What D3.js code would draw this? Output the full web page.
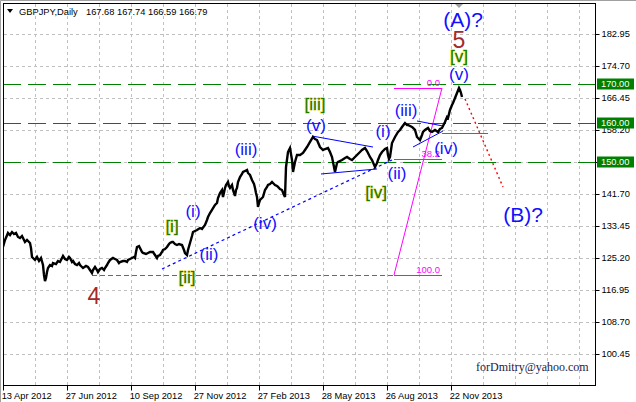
<!DOCTYPE html>
<html><head><meta charset="utf-8">
<script src="https://cdn.jsdelivr.net/npm/d3@7"></script>
<style>
body{margin:0;background:#fff}
svg{display:block}
</style>
</head><body><svg id="c" width="636" height="402"></svg>
<script>
// ---------- data ----------
const symbolTitle = "GBPJPY,Daily";
const ohlcValues = ["167.68","167.74","166.59","166.79"];
const yTickValues = [100.45,108.70,116.95,125.20,133.45,141.70,149.95,158.20,166.45,174.70,182.95];
const dateLabels = ["13 Apr 2012","27 Jun 2012","10 Sep 2012","27 Nov 2012","27 Feb 2013","28 May 2013","26 Aug 2013","22 Nov 2013"];
const dateBars = [0,64,128,192,256,320,384,448];
const levelValues = [170.00,160.00,150.00];
const levelLabels = ["170.00","160.00","150.00"];
// [bar index, price]
const closeSeries = [[0,128.04],[2,129.84],[5,131.65],[7,131.13],[9,131.90],[11,131.39],[13,131.65],[15,130.62],[17,130.36],[19,130.87],[22,129.33],[24,129.84],[27,129.07],[28,127.78],[29,125.46],[31,124.94],[32,124.69],[34,125.46],[36,124.43],[38,125.20],[40,123.39],[41,120.82],[42,119.27],[43,120.05],[44,121.59],[45,122.62],[47,123.39],[49,123.14],[50,123.91],[53,123.65],[55,124.43],[57,124.17],[59,125.20],[60,125.72],[62,124.94],[64,124.69],[66,125.46],[67,125.20],[69,124.17],[70,124.43],[72,123.65],[74,123.39],[76,123.91],[77,123.39],[79,122.88],[80,122.62],[83,123.14],[85,122.88],[87,122.11],[89,121.33],[90,122.11],[92,122.88],[94,122.11],[95,121.59],[97,122.36],[99,122.62],[101,122.11],[102,122.62],[104,123.39],[105,123.91],[107,124.69],[110,125.20],[112,124.94],[114,124.69],[116,123.91],[117,124.17],[120,124.43],[122,124.43],[124,124.17],[125,124.69],[127,124.94],[129,125.20],[131,125.46],[132,125.20],[133,126.75],[134,128.04],[136,128.29],[137,127.78],[139,126.75],[140,126.49],[143,126.23],[145,126.49],[147,126.75],[150,126.75],[152,125.97],[154,125.20],[155,125.72],[157,125.97],[159,126.75],[160,127.26],[162,127.52],[164,128.04],[166,128.81],[167,129.07],[169,129.33],[170,129.33],[172,128.81],[174,128.55],[176,128.81],[179,128.55],[181,127.26],[182,126.49],[184,125.97],[185,127.26],[187,129.07],[189,130.87],[190,131.90],[192,132.16],[194,132.42],[197,132.93],[199,132.68],[202,133.71],[204,135.00],[205,135.77],[207,136.80],[209,137.58],[212,138.87],[214,139.38],[215,140.67],[217,141.96],[219,142.73],[220,140.93],[222,143.25],[223,144.02],[225,144.79],[226,143.76],[227,143.25],[229,144.02],[230,142.73],[232,141.19],[233,142.73],[234,143.25],[235,144.79],[237,146.08],[239,146.86],[240,147.37],[242,147.63],[244,147.89],[245,147.12],[247,146.60],[249,145.31],[251,144.28],[252,143.25],[253,141.96],[254,140.93],[255,138.35],[256,139.38],[257,140.15],[259,140.67],[260,140.93],[262,142.73],[264,143.51],[265,144.02],[267,144.28],[269,144.79],[271,144.28],[272,144.02],[274,143.76],[275,143.51],[277,142.99],[279,142.73],[281,141.45],[282,140.93],[283,148.66],[285,152.53],[286,153.04],[287,153.56],[289,150.47],[290,147.37],[292,149.95],[294,151.76],[297,151.76],[300,152.27],[302,153.04],[304,153.81],[307,155.11],[310,156.40],[312,155.88],[314,155.62],[317,153.81],[320,153.04],[322,153.30],[325,153.56],[327,152.53],[329,151.24],[332,147.37],[334,149.69],[335,149.95],[339,150.47],[342,150.98],[344,151.24],[347,150.72],[349,150.47],[352,151.24],[354,151.76],[357,152.53],[359,153.04],[362,153.56],[364,152.79],[365,152.27],[367,151.24],[369,150.47],[372,148.66],[374,149.69],[375,150.47],[377,151.76],[379,152.53],[382,153.30],[384,153.56],[385,151.76],[386,150.72],[387,151.24],[389,154.85],[392,156.40],[395,157.69],[397,158.20],[399,158.97],[402,160.01],[404,159.49],[405,159.49],[407,159.23],[409,158.97],[410,158.72],[412,158.20],[414,156.40],[415,156.14],[417,155.62],[419,156.91],[420,157.69],[422,158.20],[425,158.72],[427,157.94],[429,157.69],[432,158.20],[435,157.69],[437,158.46],[439,158.72],[442,160.26],[444,161.55],[445,161.30],[447,163.36],[449,164.65],[450,165.16],[452,166.45],[454,167.74],[456,169.03],[457,168.51],[458,167.74],[459,166.71]];

// drawn objects: [[bar, price],[bar, price]]
const blueTrendLines = [
  [[159,122.36],[389,150.47]]
];
const blueSolidLines = [
  [[309,156.65],[370,153.81]],
  [[318,146.86],[374,148.15]],
  [[414,160.52],[440,159.23]],
  [[410,153.81],[440,157.94]]
];
const redForecast = [[462,166.22],[500,143.51]];
const fiboTop = 169.03, fiboBottom = 120.82;
const fiboLevels = [0.0, 38.2, 100.0];
const fiboLevelText = ["0.0","38.2","100.0"];
const fiboStartBar = 391, fiboEndBar = 439, fiboRayStartBar = 89;
const magentaExtra = [[439,157.43],[485,157.43]];

const waveLabels = [
  {t:"(A)?", bar:460, p:186.56, k:"big"},
  {t:"5", bar:456, p:181.40, k:"deg"},
  {t:"[v]", bar:456, p:177.02, k:"br"},
  {t:"(v)", bar:456, p:172.51, k:"w"},
  {t:"(iii)", bar:403, p:163.10, k:"w"},
  {t:"(i)", bar:380, p:157.69, k:"w"},
  {t:"(iv)", bar:443, p:153.43, k:"w"},
  {t:"(ii)", bar:394, p:146.99, k:"w"},
  {t:"[iv]", bar:373, p:141.96, k:"br"},
  {t:"[iii]", bar:312, p:164.65, k:"br"},
  {t:"(v)", bar:313, p:159.36, k:"w"},
  {t:"(iii)", bar:243, p:153.30, k:"w"},
  {t:"(iv)", bar:262, p:134.22, k:"w"},
  {t:"(i)", bar:190, p:137.06, k:"w"},
  {t:"[i]", bar:169, p:133.45, k:"br"},
  {t:"(ii)", bar:206, p:126.23, k:"w"},
  {t:"[ii]", bar:184, p:120.05, k:"br"},
  {t:"4", bar:91, p:115.41, k:"deg"},
  {t:"(B)?", bar:520, p:136.54, k:"big"}
];
const watermark = "forDmitry@yahoo.com";

// ---------- scales ----------
const SANS = "'Liberation Sans',Arial,sans-serif";
const svg = d3.select("#c");
const W = 636, H = 402;
const L = 3, R = 595, T = 3, B = 385;
const x = d3.scaleLinear().domain([0, 592]).range([L, R]);
const y = d3.scaleLinear().domain([92.46, 190.94]).range([B, T]);
const px = v => Math.round(v) + 0.5;

svg.append("rect").attr("width", W).attr("height", H).attr("fill", "#fff");
svg.append("path").attr("d", "M0.5,402V0.5H636").attr("stroke", "#a0a0a0").attr("fill", "none");

svg.append("defs").append("clipPath").attr("id", "clip")
  .append("rect").attr("x", L + 1).attr("y", T + 1).attr("width", R - L - 1).attr("height", B - T - 1);

// grid
const grid = svg.append("g").attr("stroke", "#c0c0c0").attr("stroke-dasharray", "3,3")
  .attr("shape-rendering", "crispEdges");
d3.range(32, 592, 32).forEach(b => {
  grid.append("line").attr("x1", px(x(b))).attr("x2", px(x(b))).attr("y1", T + 1).attr("y2", B);
});
yTickValues.forEach(v => {
  grid.append("line").attr("x1", L + 1).attr("x2", R).attr("y1", px(y(v))).attr("y2", px(y(v)));
});

const plot = svg.append("g").attr("clip-path", "url(#clip)");

// level lines
levelValues.forEach(v => {
  plot.append("line").attr("x1", L).attr("x2", R).attr("y1", px(y(v))).attr("y2", px(y(v)))
    .attr("stroke", "#008000").attr("stroke-dasharray", "18,7").attr("shape-rendering", "crispEdges");
});

// fibo
const fy = lv => y(fiboTop - (fiboTop - fiboBottom) * lv / 100);
plot.append("line").attr("x1", x(fiboRayStartBar)).attr("x2", x(fiboStartBar))
  .attr("y1", px(y(fiboBottom))).attr("y2", px(y(fiboBottom)))
  .attr("stroke", "#ff00ff").attr("stroke-width", 1.2).attr("stroke-dasharray", "5,3");
fiboLevels.forEach((lv, i) => {
  plot.append("line").attr("x1", x(fiboStartBar)).attr("x2", x(fiboEndBar))
    .attr("y1", px(fy(lv))).attr("y2", px(fy(lv)))
    .attr("stroke", "#ff00ff").attr("shape-rendering", "crispEdges");
  plot.append("text").attr("x", x(fiboEndBar) - 2).attr("y", px(fy(lv)) - 3)
    .attr("text-anchor", "end").style("font-family", SANS).attr("font-size", 9.5)
    .attr("fill", "#ff00ff").text(fiboLevelText[i]);
});
plot.append("line").attr("x1", x(fiboStartBar)).attr("y1", y(fiboBottom))
  .attr("x2", x(fiboEndBar)).attr("y2", y(fiboTop)).attr("stroke", "#ff00ff");
plot.append("line").attr("x1", x(magentaExtra[0][0])).attr("x2", x(magentaExtra[1][0]))
  .attr("y1", px(y(magentaExtra[0][1]))).attr("y2", px(y(magentaExtra[1][1])))
  .attr("stroke", "#ff00ff").attr("shape-rendering", "crispEdges");

// blue lines
blueTrendLines.forEach(s => {
  plot.append("line").attr("x1", x(s[0][0])).attr("y1", y(s[0][1])).attr("x2", x(s[1][0])).attr("y2", y(s[1][1]))
    .attr("stroke", "#0000ff").attr("stroke-width", 1.2).attr("stroke-dasharray", "3,3");
});
blueSolidLines.forEach(s => {
  plot.append("line").attr("x1", x(s[0][0])).attr("y1", y(s[0][1])).attr("x2", x(s[1][0])).attr("y2", y(s[1][1]))
    .attr("stroke", "#0000ff");
});
// red forecast
plot.append("line").attr("x1", x(redForecast[0][0])).attr("y1", y(redForecast[0][1]))
  .attr("x2", x(redForecast[1][0])).attr("y2", y(redForecast[1][1]))
  .attr("stroke", "#ff0000").attr("stroke-width", 1.4).attr("stroke-dasharray", "2,3");

// price
plot.append("path").datum(closeSeries)
  .attr("d", d3.line().x(d => x(d[0])).y(d => y(d[1])))
  .attr("fill", "none").attr("stroke", "#000").attr("stroke-width", 2.4).attr("stroke-linejoin", "miter");

// wave labels
const st = {
  big: {size: 21, fill: "#1010ff", stroke: "none"},
  w:   {size: 17, fill: "#1010ff", stroke: "none"},
  br:  {size: 17, fill: "#1a7a00", stroke: "#d8d000"},
  deg: {size: 23, fill: "#a52a2a", stroke: "none"}
};
waveLabels.forEach(d => {
  const s = st[d.k];
  svg.append("text").attr("x", x(d.bar)).attr("y", y(d.p))
    .attr("text-anchor", "middle").attr("dominant-baseline", "central")
    .style("font-family", SANS).attr("font-size", s.size).attr("fill", s.fill)
    .attr("stroke", s.stroke).attr("stroke-width", s.stroke === "none" ? 0 : 0.8)
    .attr("paint-order", "stroke").text(d.t);
});

// watermark
svg.append("text").attr("x", 476).attr("y", 371)
  .style("font-family", "'Liberation Serif','Times New Roman',serif")
  .attr("font-size", 12).attr("fill", "#1c1c44").text(watermark);

// frame & axes
svg.append("rect").attr("x", L + 0.5).attr("y", T + 0.5).attr("width", R - L).attr("height", B - T)
  .attr("fill", "none").attr("stroke", "#000").attr("shape-rendering", "crispEdges");

const yAxis = d3.axisRight(y).tickValues(yTickValues).tickFormat(d3.format(".2f")).tickSize(4).tickPadding(2);
const ya = svg.append("g").attr("transform", `translate(${R + 0.5},0)`).call(yAxis);
ya.select(".domain").remove();
ya.selectAll("text").attr("font-size", 9.3).style("font-family", SANS).attr("fill", "#000");
ya.selectAll("line").attr("stroke", "#000");

const dateScale = d3.scaleOrdinal().domain(dateBars).range(dateLabels);
const xAxis = d3.axisBottom(x).tickValues(dateBars).tickFormat(b => dateScale(b)).tickSize(5).tickPadding(2);
const xa = svg.append("g").attr("transform", `translate(0,${B + 0.5})`).call(xAxis);
xa.select(".domain").remove();
xa.selectAll("text").attr("font-size", 9.3).style("font-family", SANS)
  .attr("fill", "#000").attr("text-anchor", "start").attr("dx", "-0.2em");
xa.selectAll("line").attr("stroke", "#000");

// level price boxes
levelValues.forEach((v, i) => {
  const yy = y(v);
  svg.append("rect").attr("x", 597).attr("y", Math.round(yy) - 5.5).attr("width", 37).attr("height", 11)
    .attr("fill", "#008000");
  svg.append("text").attr("x", 601).attr("y", yy).attr("dominant-baseline", "central")
    .style("font-family", SANS).attr("font-size", 9.3).attr("fill", "#fff").text(levelLabels[i]);
});

// header
svg.append("path").attr("d", "M7,9H13L10,13Z").attr("fill", "#000");
const hdr = svg.append("text").attr("x", 19).attr("y", 15).style("font-family", SANS)
  .attr("font-size", 9.3).attr("fill", "#000");
hdr.append("tspan").text(symbolTitle);
ohlcValues.forEach((v, i) => hdr.append("tspan").attr("x", 86 + i * 31).text(v));

// shift marker
svg.append("path").attr("d", "M455,4H463L459,8Z").attr("fill", "#a0a0a0");
</script>
</body></html>
